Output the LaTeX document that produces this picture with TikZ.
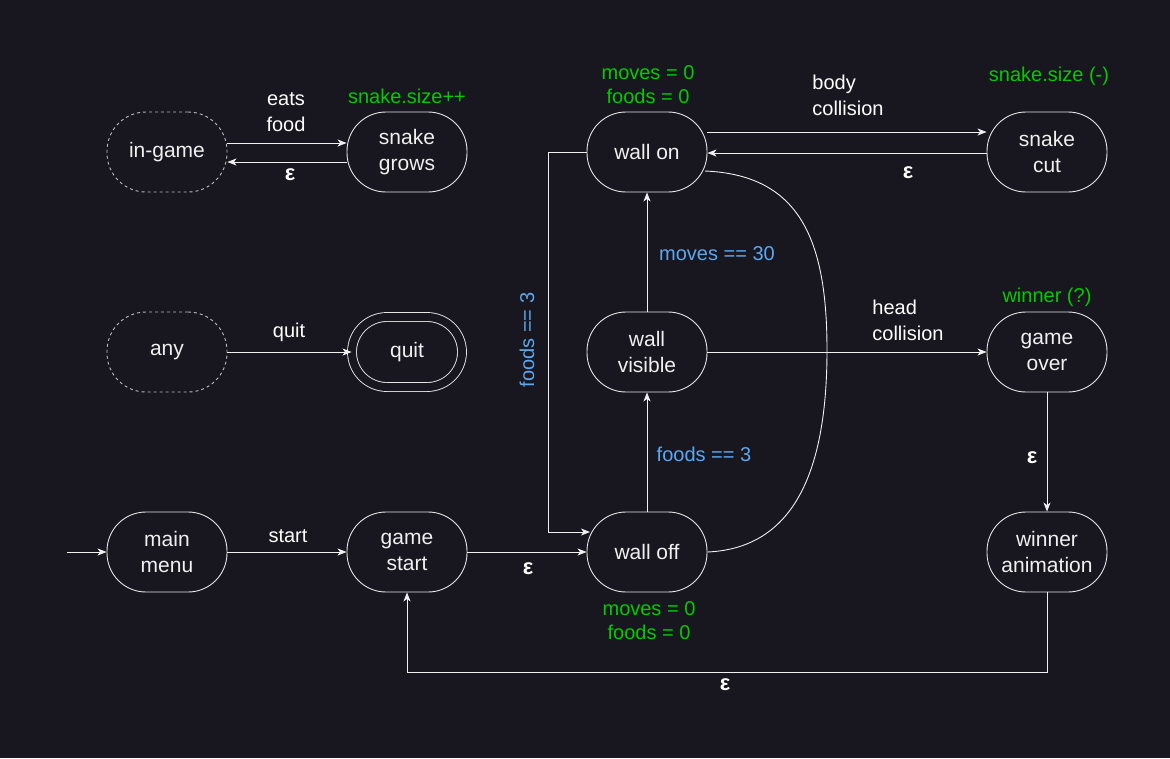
\documentclass[tikz,border=0pt]{standalone}
\usepackage{fontspec}
\setmainfont{Liberation Sans}
\usetikzlibrary{arrows.meta,positioning,calc}
\definecolor{bg}{HTML}{18161F}
\definecolor{edge}{HTML}{F0F0F0}
\definecolor{stroke}{HTML}{E6E6E6}
\definecolor{grn}{HTML}{00CC00}
\definecolor{blu}{HTML}{5CA8F0}
\definecolor{dashc}{HTML}{BDBDBD}
\begin{document}
\begin{tikzpicture}[x=1pt,y=-1pt,
  every node/.style={font=\fontsize{20}{26}\selectfont, align=center, inner sep=0pt},
  state/.style={draw=stroke, line width=0.9pt, rounded corners=39pt, minimum width=120pt, minimum height=80pt, text=edge, fill=bg, font=\fontsize{21}{26}\selectfont},
  anystate/.style={state, draw=dashc, dash pattern=on 3pt off 3pt},
  final/.style={state, double=bg, double distance=8pt, line width=0.9pt, minimum width=110pt, minimum height=70pt, rounded corners=35pt},
  conn/.style={draw=edge, line width=0.9pt, -{Stealth[length=9pt,width=7pt,inset=2.5pt]}},
  plainconn/.style={draw=edge, line width=0.9pt},
  lbl/.style={text=white},
  eps/.style={text=white, font=\fontsize{22}{26}\selectfont\bfseries},
  glbl/.style={text=grn, font=\fontsize{20}{24}\selectfont},
  blbl/.style={text=blu}]
\fill[bg] (0,0) rectangle (1170,758);
\useasboundingbox (0,0) rectangle (1170,758);

% states
\node[anystate] (ingame) at (167,152) {in-game};
\node[state] (grows) at (407,152) {snake\\grows};
\node[anystate] (any) at (167,352) {any};
\node[final] (quit) at (407,352) {quit};
\node[state] (menu) at (167,552) {main\\menu};
\node[state] (gstart) at (407,552) {game\\start};
\node[state] (off) at (647,552) {wall off};
\node[state] (vis) at (647,352) {wall\\visible};
\node[state] (on) at (647,152) {wall on};
\node[state] (cut) at (1047,152) {snake\\cut};
\node[state] (over) at (1047,352) {game\\over};
\node[state] (anim) at (1047,552) {winner\\animation};

% green annotations
\node[glbl] (g1) at (407,96) {snake.size++};
\node[glbl] (g2) at (648,85) {moves = 0\\foods = 0};
\node[glbl] (g3) at (1049,76) {snake.size (-)};
\node[glbl] (g4) at (1047,297) {winner (?)};
\node[glbl] (g5) at (649,621) {moves = 0\\foods = 0};

% start arrow
\coordinate (init) at (67,552);
\draw[conn] (init) -- (menu.west);

% edges
\draw[conn] (ingame.east |- 0,143) -- (grows.west |- 0,143);
\node[lbl] (l1) at (286,112) {eats\\food};
\draw[conn] (grows.west |- 0,162) -- (ingame.east |- 0,162);
\node[eps] (l2) at (290,175) {ε};

\draw[conn] (any) -- (quit);
\node[lbl] (l3) at (289,332) {quit};

\draw[conn] (menu) -- (gstart);
\node[lbl] (l4) at (288,536) {start};

\draw[conn] (gstart) -- (off);
\node[eps] (l5) at (528,569) {ε};

\draw[conn] (off) -- (vis);
\node[blbl] (l6) at (704,454) {foods == 3};
\draw[conn] (vis) -- (on);
\node[blbl] (l7) at (717,254) {moves == 30};

\draw[conn] (on.west) -- (548,152) -- (548,532) -- (590,532);
\node[blbl, rotate=90] (l8) at (527,340) {foods == 3};

\draw[plainconn] (off.east) .. controls (800,548) and (827,460) .. (827,350)
  .. controls (827,240) and (800,175) .. (705,171);

\draw[conn] (on.east |- 0,132) -- (cut.west |- 0,132);
\node[lbl, align=left] (l9) at (848,95) {body\\collision};
\draw[conn] (cut.west |- 0,153) -- (on.east |- 0,153);
\node[eps] (l10) at (908,173) {ε};

\draw[conn] (vis) -- (over);
\node[lbl, align=left] (l11) at (908,320) {head\\collision};

\draw[conn] (over) -- (anim);
\node[eps] (l12) at (1032,458) {ε};

\draw[conn] (anim.south) -- (1047,672) -- (407,672) -- (gstart.south);
\node[eps] (l13) at (725,685) {ε};
\end{tikzpicture}
\end{document}
